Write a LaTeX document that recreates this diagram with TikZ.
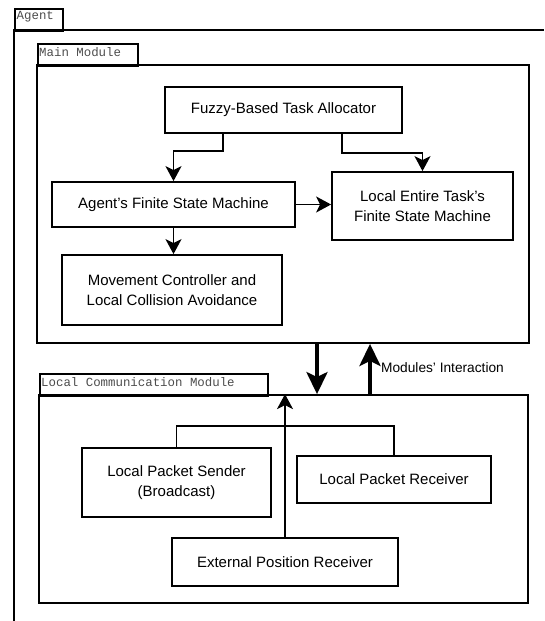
\documentclass[tikz,border=0pt]{standalone}
\usepackage{fontspec}
\setmainfont{Liberation Sans}
\newfontfamily\monofont{Liberation Mono}
\usetikzlibrary{arrows.meta}
\begin{document}
\begin{tikzpicture}[x=1pt,y=-1pt,
  box/.style={draw,line width=1.8pt,align=center,font=\fontsize{15}{20}\selectfont,inner sep=0pt},
  frame/.style={draw,line width=1.8pt,inner sep=0pt},
  tabbox/.style={draw,line width=1.8pt,inner sep=0pt,anchor=north west},
  tablbl/.style={font=\monofont\fontsize{12.4}{14}\selectfont,text=black!70,inner sep=0pt,anchor=west},
  arr/.style={line width=1.8pt,-{Stealth[length=15pt,width=16pt,inset=4pt]}},
  bigarr/.style={line width=4pt,-{Stealth[length=22pt,width=21pt,inset=5pt]}},
  lbl/.style={font=\fontsize{13.7}{16}\selectfont,inner sep=0pt,anchor=west}]
\useasboundingbox (0,0) rectangle (544,621);
% Agent frame
\coordinate (agbl) at (14,621);
\coordinate (agtl) at (14,30);
\coordinate (agtr) at (544,30);
\draw[line width=1.8pt] (agbl) -- (agtl) -- (agtr);
\node[tabbox,minimum width=48pt,minimum height=22pt] (agenttab) at (14,8) {};
\node[tablbl] (agentlbl) at (16.5,16.5) {Agent};
% Main module
\node[frame,minimum width=492pt,minimum height=278pt] (main) at (283,204) {};
\node[tabbox,minimum width=100pt,minimum height=22pt] (maintab) at (37,43) {};
\node[tablbl] (mainlbl) at (39,52) {Main Module};
% Local communication module
\node[frame,minimum width=489pt,minimum height=208pt] (comm) at (283.5,499) {};
\node[tabbox,minimum width=228pt,minimum height=22pt] (commtab) at (39,373) {};
\node[tablbl] (commlbl) at (41,382.5) {Local Communication Module};
% boxes
\node[box,minimum width=237pt,minimum height=46pt] (fuzzy) at (283.5,110) {Fuzzy-Based Task Allocator};
\node[box,minimum width=243pt,minimum height=45pt] (afsm) at (173.5,204.5) {Agent's Finite State Machine};
\node[box,minimum width=181pt,minimum height=68pt] (lete) at (422.5,206) {Local Entire Task's\\Finite State Machine};
\node[box,minimum width=220pt,minimum height=70pt] (move) at (172,290) {Movement Controller and\\Local Collision Avoidance};
\node[box,minimum width=189pt,minimum height=69pt] (sender) at (176.5,482.5) {Local Packet Sender\\(Broadcast)};
\node[box,minimum width=194pt,minimum height=47pt] (recv) at (394,479.5) {Local Packet Receiver};
\node[box,minimum width=226pt,minimum height=48pt] (ext) at (285,562) {External Position Receiver};
% connectors
\draw[arr] ([xshift=-60.5pt]fuzzy.south) -- ++(0,17) -| (afsm.north);
\draw[arr] ([xshift=58.5pt]fuzzy.south) -- ++(0,19) -| (lete.north);
\draw[arr] (afsm.east) -- (afsm.east -| lete.west);
\draw[arr] (afsm.south) -- (afsm.south |- move.north);
\draw[line width=1.8pt] (sender.north) -- ++(0,-21) -| (recv.north);
\draw[arr] (ext.north) -- (ext.north |- comm.north);
\draw[bigarr] ([xshift=34pt]main.south) -- ([xshift=34pt]main.south |- comm.north);
\draw[bigarr] ([xshift=86.5pt]comm.north) -- ([xshift=86.5pt]comm.north |- main.south);
\node[lbl] (inter) at (381,368) {Modules' Interaction};
\end{tikzpicture}
\end{document}
